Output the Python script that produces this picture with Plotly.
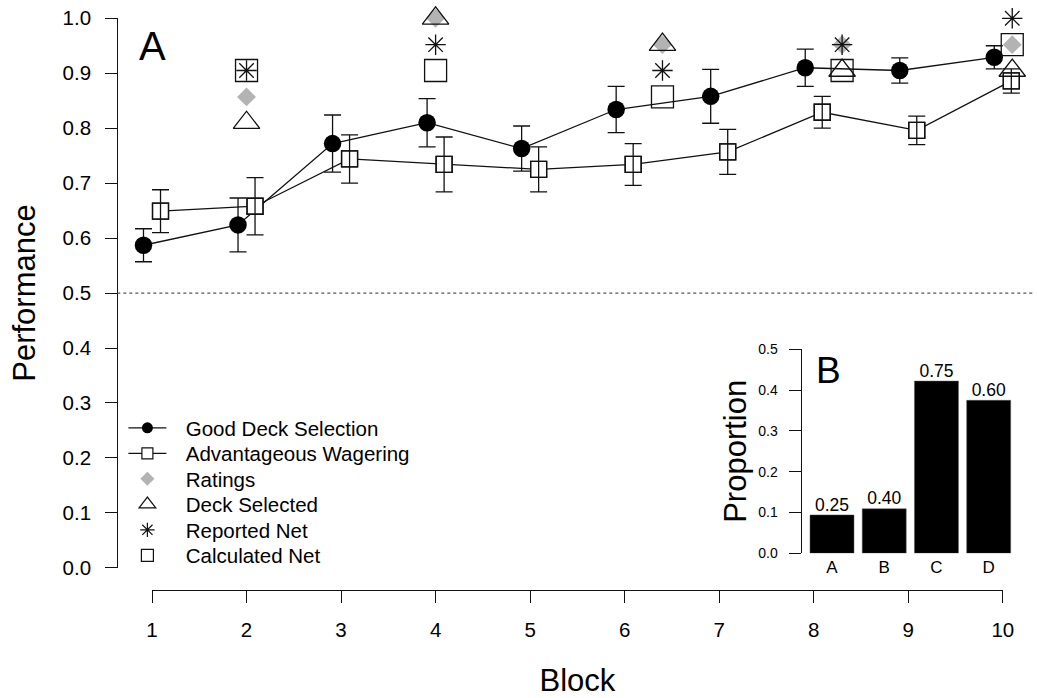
import plotly.graph_objects as go

# ---------------- data ----------------
blocks = [1, 2, 3, 4, 5, 6, 7, 8, 9, 10]
good_deck = [0.587, 0.624, 0.772, 0.810, 0.763, 0.834, 0.858, 0.910, 0.905, 0.929]
good_deck_se = [0.030, 0.049, 0.052, 0.044, 0.041, 0.042, 0.049, 0.034, 0.023, 0.021]
adv_wager = [0.649, 0.658, 0.744, 0.734, 0.725, 0.734, 0.757, 0.829, 0.796, 0.886]
adv_wager_se = [0.039, 0.052, 0.044, 0.050, 0.041, 0.038, 0.041, 0.029, 0.026, 0.022]

report_blocks = [2, 4, 6, 8, 10]
ratings = [0.857, 1.0, 0.952, 0.952, 0.952]
deck_selected = [0.810, 1.0, 0.952, 0.905, 0.905]
reported_net = [0.905, 0.952, 0.905, 0.952, 1.0]
calculated_net = [0.905, 0.905, 0.857, 0.905, 0.952]

decks = ["A", "B", "C", "D"]
proportion = [0.094, 0.109, 0.422, 0.375]
bar_labels = ["0.25", "0.40", "0.75", "0.60"]

perf_ticks = [0.0, 0.1, 0.2, 0.3, 0.4, 0.5, 0.6, 0.7, 0.8, 0.9, 1.0]
prop_ticks = [0.0, 0.1, 0.2, 0.3, 0.4, 0.5]
CHANCE = 0.5

# ---------------- positioning / style ----------------
DODGE = 0.09                      # horizontal dodge of the two trial series
report_nudge = [0.0, 0.0, 0.4, 0.3, 0.1]
W, H = 1037, 698
FONT = "Liberation Sans, Arial, Helvetica, sans-serif"
GRAY = "#b3b3b3"
INK = "#111111"
PAD = "\u2002\u2009"              # gap between legend key and its text

gd_x = [b - DODGE for b in blocks]
aw_x = [b + DODGE for b in blocks]
rep_x = [b + n for b, n in zip(report_blocks, report_nudge)]


def px_x(p):
    """window pixel (from left) -> paper fraction"""
    return p / W


def px_y(p):
    """window pixel (from top) -> paper fraction"""
    return (H - p) / H


fig = go.Figure()

err = dict(type="data", thickness=1.3, width=8.5, color=INK)

fig.add_trace(go.Scatter(
    x=gd_x, y=good_deck, name="Good Deck Selection", legendgroup="gd",
    mode="lines+markers", line=dict(color=INK, width=1.3),
    marker=dict(symbol="circle", size=17.5, color="black"),
    error_y=dict(array=good_deck_se, **err),
    showlegend=False, cliponaxis=False, hoverinfo="skip"))

fig.add_trace(go.Scatter(
    x=aw_x, y=adv_wager, name="Advantageous Wagering", legendgroup="aw",
    mode="lines+markers", line=dict(color=INK, width=1.3),
    marker=dict(symbol="square", size=16, color="white",
                line=dict(color=INK, width=1.3)),
    showlegend=False, cliponaxis=False, hoverinfo="skip"))

fig.add_trace(go.Scatter(
    x=aw_x, y=adv_wager, name="Advantageous Wagering", legendgroup="aw",
    mode="markers",
    marker=dict(symbol="square-open", size=16, color=INK,
                line=dict(color=INK, width=1.3)),
    error_y=dict(array=adv_wager_se, **err),
    showlegend=False, cliponaxis=False, hoverinfo="skip"))

fig.add_trace(go.Scatter(
    x=rep_x, y=ratings, name="Ratings", legendgroup="ra", mode="markers",
    marker=dict(symbol="diamond", size=14.5, color=GRAY, line=dict(width=0)),
    showlegend=False, cliponaxis=False, hoverinfo="skip"))

fig.add_trace(go.Scatter(
    x=rep_x, y=deck_selected, name="Deck Selected", legendgroup="ds",
    mode="markers",
    marker=dict(symbol="triangle-up-open", size=23, color=INK,
                line=dict(color=INK, width=1.3)),
    showlegend=False, cliponaxis=False, hoverinfo="skip"))

fig.add_trace(go.Scatter(
    x=rep_x, y=reported_net, name="Reported Net", legendgroup="rn",
    mode="markers",
    marker=dict(symbol="asterisk-open", size=17, color=INK,
                line=dict(color=INK, width=1.3)),
    showlegend=False, cliponaxis=False, hoverinfo="skip"))

fig.add_trace(go.Scatter(
    x=rep_x, y=calculated_net, name="Calculated Net", legendgroup="cn",
    mode="markers",
    marker=dict(symbol="square-open", size=22, color=INK,
                line=dict(color=INK, width=1.3)),
    showlegend=False, cliponaxis=False, hoverinfo="skip"))

# legend keys (small symbols, one legend box per row so rows sit 25.5px apart)
legend_keys = [
    ("Good Deck Selection", "gd", "lines+markers",
     dict(symbol="circle", size=11, color="black")),
    ("Advantageous Wagering", "aw", "lines+markers",
     dict(symbol="square", size=11, color="white", line=dict(color=INK, width=1.2))),
    ("Ratings", "ra", "markers",
     dict(symbol="diamond", size=10.8, color=GRAY, line=dict(width=0))),
    ("Deck Selected", "ds", "markers",
     dict(symbol="triangle-up-open", size=14.5, color=INK, line=dict(color=INK, width=1.2))),
    ("Reported Net", "rn", "markers",
     dict(symbol="asterisk-open", size=12, color=INK, line=dict(color=INK, width=1.2))),
    ("Calculated Net", "cn", "markers",
     dict(symbol="square-open", size=12, color=INK, line=dict(color=INK, width=1.2))),
]
legend_ids = ["legend", "legend2", "legend3", "legend4", "legend5", "legend6"]
for (name, grp, mode, mk), lid in zip(legend_keys, legend_ids):
    fig.add_trace(go.Scatter(
        x=[None], y=[None], name=PAD + name, legendgroup=grp, legend=lid,
        mode=mode, line=dict(color=INK, width=1.3), marker=mk,
        showlegend=True, hoverinfo="skip"))

# invisible trace carrying the R-style display axes (x3 / y3)
fig.add_trace(go.Scatter(
    x=[blocks[0], blocks[-1]], y=[perf_ticks[0], perf_ticks[-1]],
    xaxis="x3", yaxis="y3", mode="markers", marker=dict(opacity=0),
    showlegend=False, hoverinfo="skip"))

# inset bar chart
fig.add_trace(go.Bar(
    x=decks, y=proportion, xaxis="x2", yaxis="y2", name="Proportion",
    marker=dict(color="black", line=dict(color="#555555", width=0.5)),
    cliponaxis=False, showlegend=False, hoverinfo="skip"))
fig.add_trace(go.Scatter(
    x=decks, y=proportion, xaxis="x2", yaxis="y2", mode="text",
    text=bar_labels, textposition="top center",
    textfont=dict(size=17.5, color="black", family=FONT),
    cliponaxis=False, showlegend=False, hoverinfo="skip"))

# ---------------- geometry (window pixels -> paper) ----------------
x_px1, x_px10 = 152.0, 1002.8          # block 1 and block 10 positions
per_block = (x_px10 - x_px1) / 9
y_px0, y_px1 = 567.8, 18.3             # performance 0.0 and 1.0
per_unit = y_px0 - y_px1

data_left_px, data_right_px = 117.3, 1033.0
data_bottom_px, data_top_px = 589.8, 2.0
xr = [1 + (data_left_px - x_px1) / per_block, 1 + (data_right_px - x_px1) / per_block]
yr = [(y_px0 - data_bottom_px) / per_unit, (y_px0 - data_top_px) / per_unit]

hidden = dict(showline=False, showticklabels=False, showgrid=False,
              zeroline=False, ticks="", automargin=False)

legend_rows_px = [428.3 + 25.5 * i for i in range(6)]
legend_layout = {}
for lid, row in zip(legend_ids, legend_rows_px):
    legend_layout[lid] = dict(
        x=px_x(123.4), y=px_y(row - 20.3), xanchor="left", yanchor="top",
        bgcolor="rgba(0,0,0,0)", font=dict(size=20.5, color="black", family=FONT),
        itemwidth=38, itemsizing="trace", tracegroupgap=0, traceorder="normal")

fig.update_layout(
    width=W, height=H,
    margin=dict(l=0, r=0, t=0, b=0, autoexpand=False),
    paper_bgcolor="white", plot_bgcolor="rgba(0,0,0,0)",
    font=dict(family=FONT, color="black", size=20.5),
    xaxis=dict(domain=[px_x(data_left_px), px_x(data_right_px)], range=xr, **hidden),
    yaxis=dict(domain=[px_y(data_bottom_px), px_y(data_top_px)], range=yr, **hidden),
    xaxis3=dict(
        domain=[px_x(x_px1), px_x(x_px10)], range=[blocks[0], blocks[-1]],
        anchor="free", position=px_y(589.7), automargin=False,
        tickmode="array", tickvals=blocks, ticklabeloverflow="allow",
        showline=True, linecolor=INK, linewidth=1.2,
        ticks="outside", ticklen=12, tickwidth=1.2, tickcolor=INK,
        tickfont=dict(size=20.5), ticklabelstandoff=10,
        showgrid=False, zeroline=False,
        title=dict(text="Block", font=dict(size=31), standoff=28)),
    yaxis3=dict(
        domain=[px_y(y_px0), px_y(y_px1)], range=[perf_ticks[0], perf_ticks[-1]],
        anchor="free", position=px_x(117.3), automargin=False,
        tickmode="array", tickvals=perf_ticks, tickformat=".1f",
        ticklabeloverflow="allow",
        showline=True, linecolor=INK, linewidth=1.2,
        ticks="outside", ticklen=12, tickwidth=1.2, tickcolor=INK,
        tickfont=dict(size=20.5), ticklabelstandoff=10,
        showgrid=False, zeroline=False,
        title=dict(text="Performance", font=dict(size=31), standoff=16)),
    xaxis2=dict(
        domain=[px_x(801.7), px_x(1014.8)], range=[-0.58, 3.5],
        anchor="y2", showline=False, ticks="", showgrid=False, zeroline=False,
        automargin=False, tickfont=dict(size=17), ticklabelstandoff=2),
    yaxis2=dict(
        domain=[px_y(553.3), px_y(349.3)], range=[prop_ticks[0], prop_ticks[-1]],
        anchor="x2", tickmode="array", tickvals=prop_ticks, tickformat=".1f",
        showline=True, linecolor=INK, linewidth=1.2, automargin=False,
        ticks="outside", ticklen=12, tickwidth=1.2, tickcolor=INK,
        tickfont=dict(size=14), ticklabelstandoff=8,
        showgrid=False, zeroline=False,
        title=dict(text="Proportion", font=dict(size=31), standoff=2)),
    bargap=0.158,
    showlegend=True,
    shapes=[dict(type="line", xref="x domain", yref="y", x0=0, x1=1,
                 y0=CHANCE, y1=CHANCE,
                 line=dict(color="#555555", width=1.2, dash="dot"))],
    annotations=[
        dict(text="A", xref="paper", yref="paper", x=px_x(152), y=px_y(46),
             showarrow=False, font=dict(size=40), xanchor="center", yanchor="middle"),
        dict(text="B", xref="paper", yref="paper", x=px_x(828), y=px_y(370),
             showarrow=False, font=dict(size=37), xanchor="center", yanchor="middle"),
    ],
    **legend_layout,
)

# remove the browser's default 8px body margin so the figure fills the window
fig.write_html("out.html", config={"displayModeBar": False},
               post_script="document.body.style.margin='0px';")
